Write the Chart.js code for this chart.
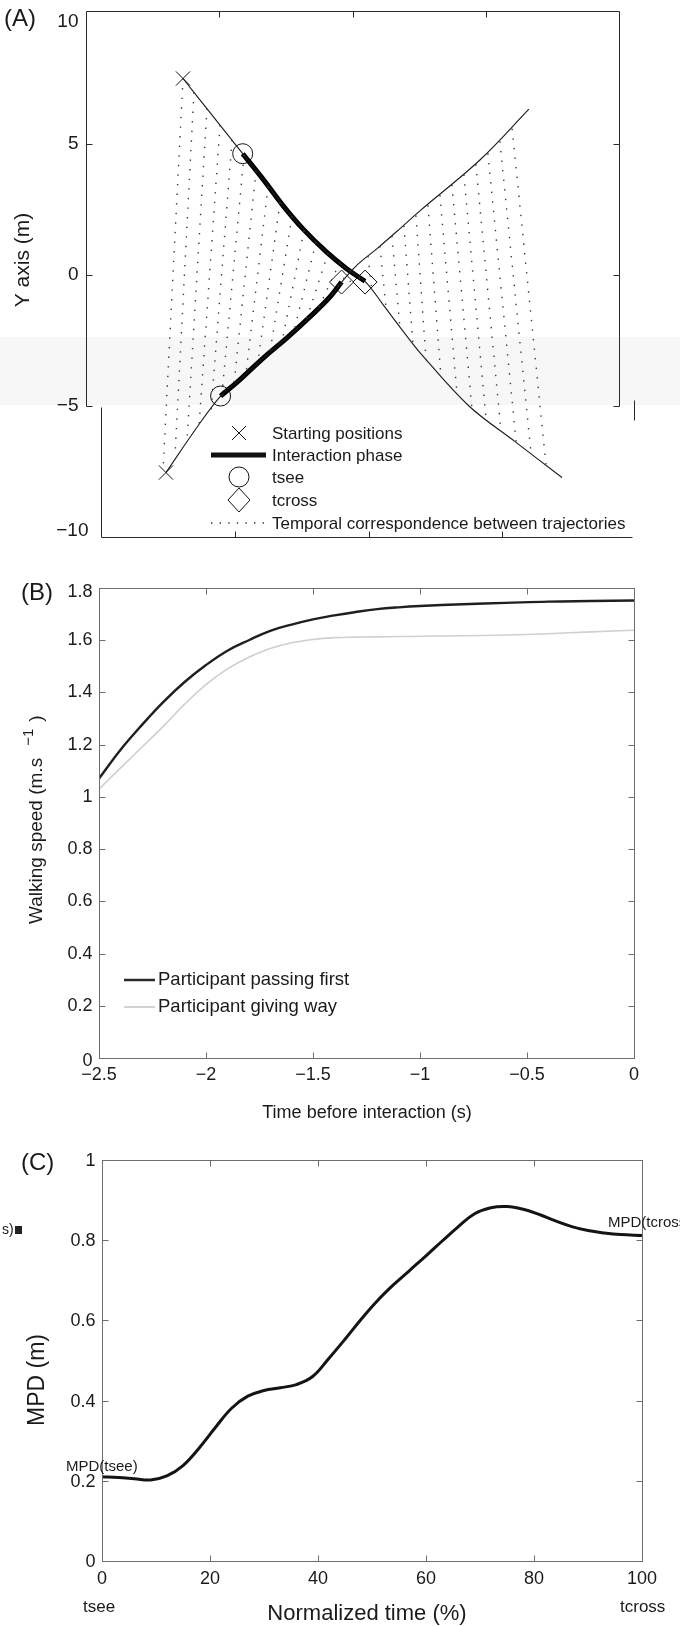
<!DOCTYPE html>
<html><head><meta charset="utf-8">
<script src="https://cdn.jsdelivr.net/npm/chart.js@4.4.1/dist/chart.umd.min.js"></script>
<style>
html,body{margin:0;padding:0;background:#fff;}
#wrap{position:relative;width:680px;height:1626px;overflow:hidden;background:#fff;}
canvas{position:absolute;left:0;}
</style></head><body>
<div id="wrap">
<canvas id="cA" width="680" height="560" style="top:0;width:680px;height:560px"></canvas>
<canvas id="cB" width="680" height="570" style="top:560px;width:680px;height:570px"></canvas>
<canvas id="cC" width="680" height="496" style="top:1130px;width:680px;height:496px"></canvas>
</div>
<script>
// ---------- Panel A data (metres) ----------
const trajTicks = [10, 5, 0, -5, -10];
const trajXTicks = [-5, 0, 5];
const traj1X = [-6.36,-5.27,-4.12,-3.35,-2.60,-1.85,-0.97,-0.22,0.47,1.16,1.91,2.53,4.37,6.10,7.86];
const traj1Y = [7.50,6.10,4.63,3.65,2.64,1.75,0.87,0.24,-0.24,-1.15,-2.16,-2.96,-5.00,-6.36,-7.73];
const traj2X = [-7.00,-5.84,-4.95,-4.22,-3.35,-2.47,-1.59,-0.84,-0.41,0.16,0.91,1.66,2.53,4.78,6.62];
const traj2Y = [-7.54,-5.82,-4.62,-3.99,-3.17,-2.41,-1.59,-0.83,-0.27,0.37,1.00,1.66,2.45,4.39,6.33];
const inter1X = [-4.12,-3.35,-2.60,-1.85,-0.97,-0.22,0.47];
const inter1Y = [4.63,3.65,2.64,1.75,0.87,0.24,-0.24];
const inter2X = [-4.95,-4.22,-3.35,-2.47,-1.59,-0.84,-0.41];
const inter2Y = [-4.62,-3.99,-3.17,-2.41,-1.59,-0.83,-0.27];
const startX = [-6.36,-7.00];
const startY = [7.50,-7.54];
const tseeX = [-4.12,-4.95];
const tseeY = [4.63,-4.62];
const tcrossX = [-0.41,0.47];
const tcrossY = [-0.27,-0.27];
const corrTopX = [-6.36,-5.95,-5.46,-4.97,-4.52,-4.07,-3.62,-3.17,-2.72,-2.27,-1.82,-1.37,-0.92,-0.47,-0.09,0.28,0.58,1.03,1.48,1.93,2.38,2.83,3.28,3.73,4.18,4.63,5.08,5.53,5.99];
const corrTopY = [7.50,6.97,6.36,5.72,5.15,4.58,3.98,3.37,2.77,2.23,1.70,1.25,0.83,0.49,0.19,-0.11,0.72,1.10,1.49,1.88,2.27,2.66,3.05,3.44,3.83,4.22,4.64,5.10,5.58];
const corrBotX = [-7.11,-6.66,-6.21,-5.76,-5.31,-4.90,-4.45,-4.00,-3.55,-3.10,-2.65,-2.20,-1.74,-1.29,-0.84,-0.47,0.73,1.26,1.78,2.27,2.76,3.32,3.92,4.48,5.01,5.57,6.14,6.70,7.26];
const corrBotY = [-7.46,-6.89,-6.33,-5.76,-5.19,-4.58,-4.20,-3.79,-3.33,-2.95,-2.58,-2.16,-1.74,-1.29,-0.83,-0.38,-0.61,-1.29,-2.01,-2.65,-3.25,-3.90,-4.52,-5.08,-5.49,-5.95,-6.36,-6.82,-7.23];
const legendA = ['Starting positions','Interaction phase','tsee','tcross','Temporal correspondence between trajectories'];

// ---------- Panel B data ----------
const speedTime = [-2.5,-2.4,-2.3,-2.2,-2.1,-2.0,-1.9,-1.8,-1.7,-1.6,-1.5,-1.4,-1.3,-1.2,-1.1,-1.0,-0.8,-0.6,-0.4,-0.2,0];
const speedFirst = [1.07,1.18,1.275,1.363,1.44,1.505,1.56,1.60,1.636,1.66,1.68,1.695,1.708,1.719,1.726,1.731,1.738,1.743,1.748,1.75,1.752];
const speedGiveWay = [1.03,1.11,1.19,1.27,1.355,1.43,1.49,1.535,1.568,1.59,1.603,1.61,1.612,1.613,1.614,1.615,1.617,1.62,1.625,1.632,1.638];
const speedYTicks = [0,0.2,0.4,0.6,0.8,1,1.2,1.4,1.6,1.8];
const speedXTicks = [-2.5,-2,-1.5,-1,-0.5,0];
const legendB = ['Participant passing first','Participant giving way'];

// ---------- Panel C data ----------
const normTime = [0,3,6,9,12,15,18,21,24,27,30,33,36,39,42,45,48,51,54,57,60,63,66,69,72,75,78,81,84,87,90,93,96,100];
const mpd = [0.21,0.208,0.205,0.202,0.212,0.238,0.282,0.333,0.381,0.411,0.425,0.432,0.44,0.46,0.505,0.553,0.603,0.649,0.689,0.725,0.761,0.798,0.834,0.866,0.881,0.884,0.877,0.864,0.848,0.834,0.824,0.818,0.814,0.812];
const mpdYTicks = [0,0.2,0.4,0.6,0.8,1];
const normXTicks = [0,20,40,60,80,100];

// ---------- helpers ----------
const FONT = '"Liberation Sans", Arial, sans-serif';
const TXT = '#1a1a1a';
const fmt = v => String(v).replace('-', '\u2212');
const pts = (xs, ys) => xs.map((x, i) => ({x, y: ys[i]}));
function seg(c, x1, y1, x2, y2){ c.beginPath(); c.moveTo(x1, y1); c.lineTo(x2, y2); c.stroke(); }
const P = v => Math.round(v) + 0.5;

function baseOptions(pad, xr, yr){
  return {
    responsive:false, animation:false, devicePixelRatio:1, events:[],
    layout:{padding:pad},
    plugins:{legend:{display:false}, tooltip:{enabled:false}},
    scales:{
      x:{type:'linear', min:xr[0], max:xr[1], display:false},
      y:{type:'linear', min:yr[0], max:yr[1], display:false}
    }
  };
}

function boxAxes(chart, xt, yt, col){
  const c = chart.ctx, a = chart.chartArea, xs = chart.scales.x, ys = chart.scales.y;
  const L = P(a.left), R = P(a.right), T = P(a.top), B = P(a.bottom);
  c.save();
  c.strokeStyle = col; c.lineWidth = 1;
  c.strokeRect(L, T, R - L, B - T);
  xt.forEach(v => { const px = P(xs.getPixelForValue(v)); if (px > L + 2 && px < R - 2){ seg(c, px, B, px, B - 6); seg(c, px, T, px, T + 6);} });
  yt.forEach(v => { const py = P(ys.getPixelForValue(v)); if (py > T + 2 && py < B - 2){ seg(c, L, py, L + 6, py); seg(c, R, py, R - 6, py);} });
  c.restore();
  return {L, R, T, B, xs, ys, c};
}

// ---------- Panel A ----------
const corrSets = corrTopX.map((x, i) => ({
  data:[{x, y:corrTopY[i]}, {x:corrBotX[i], y:corrBotY[i]}],
  showLine:true, borderColor:'#3a3a3a', borderWidth:1.4, borderDash:[1.4, 8.2], pointRadius:0
}));

const plugA = {
  id:'plugA',
  beforeDraw(chart){
    const c = chart.ctx; c.save(); c.fillStyle = '#f7f7f7'; c.fillRect(0, 337, 680, 68); c.restore();
  },
  afterDraw(chart){
    const c = chart.ctx, a = chart.chartArea, xs = chart.scales.x, ys = chart.scales.y;
    const L = P(a.left), R = P(a.right), T = P(a.top) - 2, B = P(a.bottom);
    const yCut = P(ys.getPixelForValue(-5));
    const sh = 15;
    c.save();
    c.strokeStyle = '#2a2a2a'; c.lineWidth = 1;
    c.beginPath(); c.moveTo(L, yCut); c.lineTo(L, T); c.lineTo(R, T); c.lineTo(R, yCut); c.stroke();
    c.beginPath(); c.moveTo(L + sh, yCut + 1); c.lineTo(L + sh, B); c.lineTo(632.5, B); c.stroke();
    seg(c, 634.5, yCut - 6, 634.5, yCut + 14);
    trajXTicks.forEach(v => { const px = P(xs.getPixelForValue(v)); seg(c, px, T, px, T + 6); seg(c, px + sh + 1, B, px + sh + 1, B - 6); });
    [5, 0, -5].forEach(v => { const py = P(ys.getPixelForValue(v)); seg(c, L, py, L + 6, py); seg(c, R, py, R - 6, py); });
    // tick labels
    c.fillStyle = TXT; c.font = '19px ' + FONT; c.textAlign = 'right'; c.textBaseline = 'middle';
    trajTicks.forEach(v => {
      let py = ys.getPixelForValue(v), xr = L - 8;
      if (v === 10) py += 9;
      if (v === -10){ py -= 6; xr = L + sh - 13; }
      c.fillText(fmt(v), xr, py);
    });
    // panel label and y title
    c.textAlign = 'left'; c.font = '24px ' + FONT;
    c.fillText('(A)', 4, 19);
    c.save(); c.translate(23, 260); c.rotate(-Math.PI / 2);
    c.textAlign = 'center'; c.font = '21px ' + FONT; c.fillText('Y axis (m)', 0, 0);
    c.restore();
    // legend
    const lx = 239, rows = [433, 455, 477, 500, 523];
    c.strokeStyle = '#111'; c.lineWidth = 1;
    seg(c, lx - 7, rows[0] - 7, lx + 7, rows[0] + 7); seg(c, lx - 7, rows[0] + 7, lx + 7, rows[0] - 7);
    c.lineWidth = 5; seg(c, 211, rows[1], 266, rows[1]);
    c.lineWidth = 1; c.beginPath(); c.arc(lx, rows[2], 10, 0, Math.PI * 2); c.stroke();
    c.beginPath(); c.moveTo(lx, rows[3] - 12); c.lineTo(lx + 11, rows[3]); c.lineTo(lx, rows[3] + 12); c.lineTo(lx - 11, rows[3]); c.closePath(); c.stroke();
    c.setLineDash([1.4, 7.2]); c.lineWidth = 1.4; c.strokeStyle = '#3a3a3a'; seg(c, 211, rows[4], 264, rows[4]); c.setLineDash([]);
    c.font = '17px ' + FONT; c.fillStyle = TXT; c.textAlign = 'left';
    legendA.forEach((t, i) => c.fillText(t, 272, rows[i] + 1));
    c.restore();
  }
};

new Chart(document.getElementById('cA'), {
  type:'scatter',
  data:{datasets:[
    ...corrSets,
    {data:pts(traj1X, traj1Y), showLine:true, borderColor:'#1a1a1a', borderWidth:1.1, tension:0.35, pointRadius:0},
    {data:pts(traj2X, traj2Y), showLine:true, borderColor:'#1a1a1a', borderWidth:1.1, tension:0.35, pointRadius:0},
    {data:pts(inter1X, inter1Y), showLine:true, borderColor:'#000', borderWidth:5, tension:0.4, pointRadius:0},
    {data:pts(inter2X, inter2Y), showLine:true, borderColor:'#000', borderWidth:5, tension:0.4, pointRadius:0},
    {data:pts(startX, startY), pointStyle:'crossRot', pointRadius:10, pointBorderWidth:1, pointBorderColor:'#111'},
    {data:pts(tseeX, tseeY), pointStyle:'circle', pointRadius:10, pointBorderWidth:1, pointBorderColor:'#111', pointBackgroundColor:'rgba(0,0,0,0)'},
    {data:pts(tcrossX, tcrossY), pointStyle:'rectRot', pointRadius:12, pointBorderWidth:1, pointBorderColor:'#111', pointBackgroundColor:'rgba(0,0,0,0)'}
  ]},
  options:baseOptions({left:86, right:61, top:9, bottom:23}, [-10, 10], [-10, 10]),
  plugins:[plugA]
});

// ---------- Panel B ----------
const plugB = {
  id:'plugB',
  afterDraw(chart){
    const {L, R, T, B, xs, ys, c} = boxAxes(chart, speedXTicks, speedYTicks, '#6e6e6e');
    c.save();
    c.fillStyle = TXT; c.font = '18px ' + FONT; c.textAlign = 'right'; c.textBaseline = 'middle';
    speedYTicks.forEach(v => { let py = ys.getPixelForValue(v); if (v === 0) py += 3; if (v === 1.8) py += 4; c.fillText(fmt(v), L - 7, py); });
    c.textAlign = 'center';
    speedXTicks.forEach(v => c.fillText(fmt(v), xs.getPixelForValue(v), B + 17));
    c.font = '18px ' + FONT; c.fillText('Time before interaction (s)', (L + R) / 2, 553);
    c.textAlign = 'left'; c.font = '24px ' + FONT; c.fillText('(B)', 21, 33);
    // y title with superscript
    c.save(); c.translate(37, 0); c.rotate(-Math.PI / 2);
    c.textAlign = 'left'; c.font = '19px ' + FONT;
    let u = -364;
    const main = 'Walking speed (m.s';
    c.fillText(main, u, 0); u += c.measureText(main).width + 12;
    c.font = '15px ' + FONT; c.fillText('\u22121', u, -8); u += c.measureText('\u22121').width + 7;
    c.font = '19px ' + FONT; c.fillText(')', u, 0);
    c.restore();
    // legend
    c.lineWidth = 2.5; c.strokeStyle = '#2a2a2a'; seg(c, 124, 420, 155, 420);
    c.lineWidth = 2; c.strokeStyle = '#d2d2d2'; seg(c, 124, 447, 155, 447);
    c.font = '18.5px ' + FONT; c.fillStyle = TXT; c.textAlign = 'left';
    c.fillText(legendB[0], 158, 420); c.fillText(legendB[1], 158, 447);
    c.restore();
  }
};

new Chart(document.getElementById('cB'), {
  type:'scatter',
  data:{datasets:[
    {data:pts(speedTime, speedGiveWay), showLine:true, borderColor:'#cfcfcf', borderWidth:1.6, tension:0.4, pointRadius:0},
    {data:pts(speedTime, speedFirst), showLine:true, borderColor:'#1f1f1f', borderWidth:2.4, tension:0.4, pointRadius:0}
  ]},
  options:baseOptions({left:99, right:46, top:28, bottom:72}, [-2.5, 0], [0, 1.8]),
  plugins:[plugB]
});

// ---------- Panel C ----------
const plugC = {
  id:'plugC',
  afterDraw(chart){
    const {L, R, T, B, xs, ys, c} = boxAxes(chart, normXTicks, mpdYTicks, '#6e6e6e');
    c.save();
    c.fillStyle = TXT; c.font = '18px ' + FONT; c.textAlign = 'right'; c.textBaseline = 'middle';
    mpdYTicks.forEach(v => c.fillText(fmt(v), L - 7, ys.getPixelForValue(v) + 1));
    c.textAlign = 'center';
    normXTicks.forEach(v => c.fillText(fmt(v), xs.getPixelForValue(v), B + 18));
    c.font = '22px ' + FONT; c.fillText('Normalized time (%)', 367, 484);
    c.font = '17px ' + FONT; c.textAlign = 'left';
    c.fillText('tsee', 83, 477); c.fillText('tcross', 620, 477);
    c.font = '15px ' + FONT;
    c.fillText('MPD(tsee)', 66, 337); c.fillText('MPD(tcross)', 608, 93);
    c.font = '24px ' + FONT; c.fillText('(C)', 21, 33);
    c.font = '14px ' + FONT; c.fillText('s)', 2, 100);
    c.fillStyle = '#222'; c.fillRect(15, 96, 7, 8);
    c.fillStyle = TXT;
    c.save(); c.translate(38, 250); c.rotate(-Math.PI / 2);
    c.textAlign = 'center'; c.font = '23px ' + FONT; c.fillText('MPD (m)', 0, 0);
    c.restore();
    c.restore();
  }
};

new Chart(document.getElementById('cC'), {
  type:'scatter',
  data:{datasets:[
    {data:pts(normTime, mpd), showLine:true, borderColor:'#141414', borderWidth:3, tension:0.4, pointRadius:0}
  ]},
  options:baseOptions({left:102, right:38, top:30, bottom:65}, [0, 100], [0, 1]),
  plugins:[plugC]
});
</script>
</body></html>
